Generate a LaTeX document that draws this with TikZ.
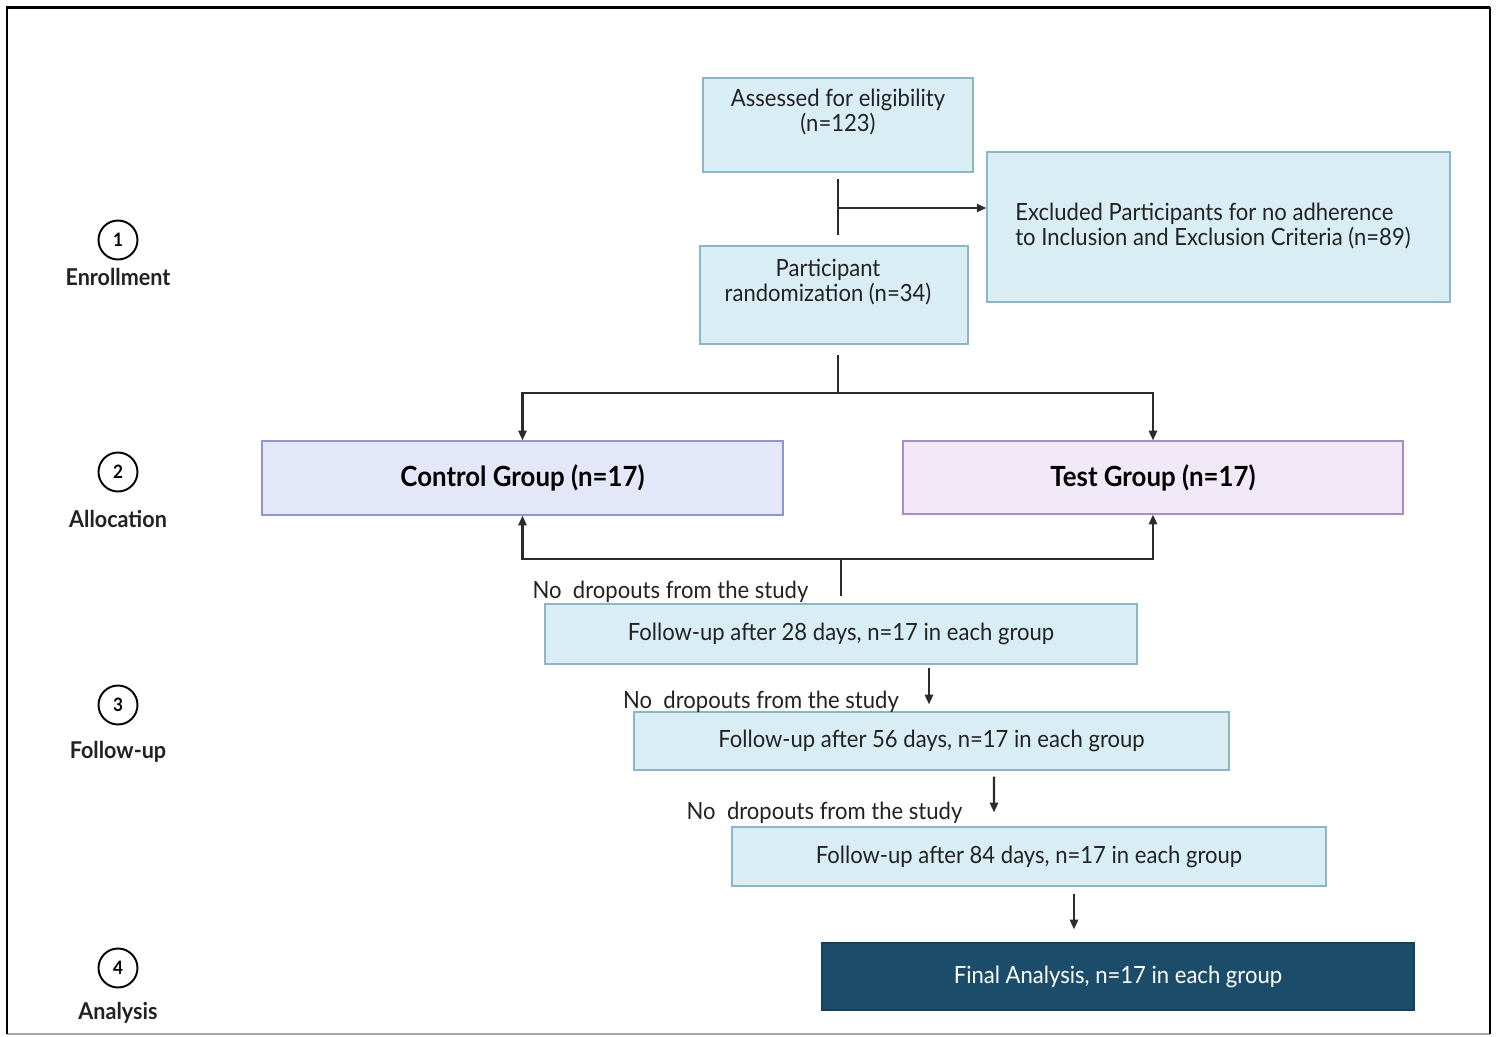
\documentclass[tikz,border=0pt]{standalone}
\usepackage{fontspec}
\setmainfont{Lato}[FakeStretch=0.93]
\usetikzlibrary{arrows.meta,calc}
\definecolor{boxfill}{HTML}{D8EEF4}
\definecolor{boxline}{HTML}{8DB6C6}
\definecolor{ctlfill}{HTML}{E3E7F8}
\definecolor{ctlline}{HTML}{8E98CF}
\definecolor{tstfill}{HTML}{F1E8F8}
\definecolor{tstline}{HTML}{A98CC4}
\definecolor{finfill}{HTML}{1B4D6B}
\definecolor{finline}{HTML}{13405C}
\definecolor{linec}{HTML}{2B2B2B}
\definecolor{txt}{HTML}{222222}
\begin{document}
\begin{tikzpicture}[x=0.02cm,y=-0.02cm,
 txtfont/.style={font=\fontsize{13.5pt}{14.2pt}\selectfont, text=txt},
 box/.style={draw=boxline, fill=boxfill, line width=0.7pt, inner sep=0pt},
 grpbox/.style={line width=0.7pt, inner sep=0pt, font=\bfseries\fontsize{15.8pt}{17pt}\selectfont, text=black},
 conn/.style={draw=linec, line width=1.3pt},
 arr/.style={conn, -{Triangle[length=5.5pt,width=4.6pt]}},
 stagenum/.style={circle, draw=black, line width=1.1pt, minimum size=0.78cm, inner sep=0pt, font=\bfseries\fontsize{10.5pt}{12pt}\selectfont},
 stagelbl/.style={font=\bfseries\fontsize{13.2pt}{14pt}\selectfont, text=txt},
 note/.style={txtfont, inner sep=0pt},
]
\useasboundingbox (0,0) rectangle (1499,1036);
\fill[white] (0,0) rectangle (1499,1036);
% frame
\draw[line width=0.8pt, gray!70] (7,1034) -- (1490,1034);
\draw[line width=1.7pt, black] (7,1034) -- (7,7) -- (1490,7);
\draw[line width=1pt, black] (1490,7) -- (1490,1034);

% stage labels
\node[stagenum] (s1) at (118,240) {1};
\node[stagelbl] (l1) at (118,277) {Enrollment};
\node[stagenum] (s2) at (118,472) {2};
\node[stagelbl] (l2) at (118,519) {Allocation};
\node[stagenum] (s3) at (118,705) {3};
\node[stagelbl] (l3) at (118,752) {Follow-up};
\node[stagenum] (s4) at (118,968) {4};
\node[stagelbl] (l4) at (118,1013) {Analysis};

% boxes
\node[box, minimum width=5.4cm, minimum height=1.88cm] (assess) at (838,125) {};
\node[note, align=center] (assessT) at (838,112) {Assessed for eligibility\\(n=123)};
\node[box, minimum width=9.26cm, minimum height=3.0cm] (excl) at (1218.5,227) {};
\node[note, align=left, anchor=west] (exclT) at (1015,226) {Excluded Participants for no adherence\\to Inclusion and Exclusion Criteria (n=89)};
\node[box, minimum width=5.36cm, minimum height=1.96cm] (part) at (834,295) {};
\node[note, align=center] (partT) at (828,282) {Participant\\randomization (n=34)};

\node[grpbox, draw=ctlline, fill=ctlfill, minimum width=10.42cm, minimum height=1.48cm] (control) at (522.5,478) {Control Group (n=17)};
\node[grpbox, draw=tstline, fill=tstfill, minimum width=10.0cm, minimum height=1.46cm] (test) at (1153,477.5) {Test Group (n=17)};

\node[box, txtfont, minimum width=11.84cm, minimum height=1.2cm] (fu28) at (841,634) {Follow-up after 28 days, n=17 in each group};
\node[box, txtfont, minimum width=11.9cm, minimum height=1.16cm] (fu56) at (931.5,741) {Follow-up after 56 days, n=17 in each group};
\node[box, txtfont, minimum width=11.88cm, minimum height=1.18cm] (fu84) at (1029,856.5) {Follow-up after 84 days, n=17 in each group};
\node[draw=finline, fill=finfill, line width=0.7pt, inner sep=0pt, font=\fontsize{13.5pt}{14.2pt}\selectfont, text=white, minimum width=11.84cm, minimum height=1.34cm] (final) at (1118,976.5) {Final Analysis, n=17 in each group};

% notes
\node[note] (n1) at (670.5,592) {No~ dropouts from the study};
\node[note] (n2) at (761,702) {No~ dropouts from the study};
\node[note] (n3) at (824.5,813) {No~ dropouts from the study};

% connectors
\coordinate (split) at (838,208);
\draw[conn] ($(assess.south)+(0,6)$) -- ($(assess.south |- part.north)+(0,-10)$);
\draw[arr] (split) -- (split -| excl.west);

\coordinate (rj) at (838,393);
\draw[conn] ($(part.south -| rj)+(0,10)$) -- (rj);
\draw[arr] (rj) -| (control.north);
\draw[arr] (rj) -| (test.north);

\coordinate (dj) at (841,559);
\draw[arr] (dj) -| (control.south);
\draw[arr] (dj) -| (test.south);
\draw[conn] (dj) -- ($(fu28.north)+(0,-7)$);

\draw[arr] ($(fu28.south)+(88,3)$) -- ($(fu56.north)+(-2.5,-7)$);
\draw[arr] ($(fu56.south)+(62.5,6)$) -- ($(fu84.north)+(-35,-14)$);
\draw[arr] ($(fu84.south)+(45,7)$) -- ($(final.north)+(-44,-13)$);
\end{tikzpicture}
\end{document}
